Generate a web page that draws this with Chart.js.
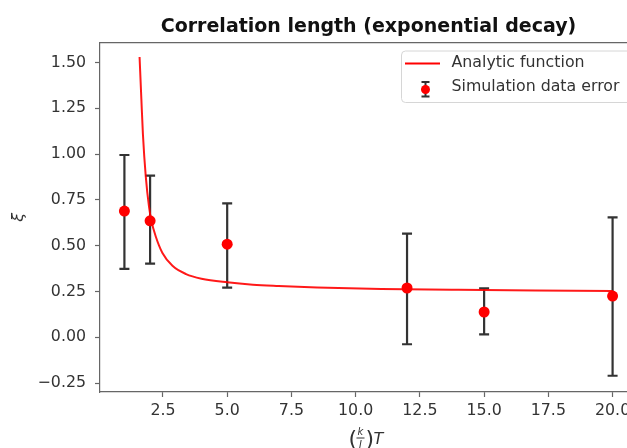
<!DOCTYPE html>
<html>
<head>
<meta charset="utf-8">
<script src="https://cdn.jsdelivr.net/npm/chart.js@4/dist/chart.umd.min.js"></script>
<style>
    html, body { margin: 0; padding: 0; background: #fff; overflow: hidden; }
    #wrap { width: 627px; height: 448px; overflow: hidden; }
</style>
</head>
<body>
<div id="wrap"><canvas id="chart" width="660" height="448"></canvas></div>
<script>
/**
 * Simulation points with their error bars.
 */
const SIM_T = [1, 2, 5, 12, 15, 20];
const SIM_XI = [0.689, 0.636, 0.508, 0.269, 0.138, 0.225];
const SIM_ERR_LOW = [0.374, 0.402, 0.271, -0.038, 0.016, -0.21];
const SIM_ERR_HIGH = [0.995, 0.882, 0.731, 0.566, 0.267, 0.655];

/**
 * Analytic curve.
 */
const CURVE_T = [1.59, 1.66, 1.72, 1.83, 1.96, 2.05, 2.22, 2.48, 2.87, 3.4, 4.0, 5.0, 6.0, 7.0, 8.5, 11, 14, 17, 20];
const CURVE_XI = [1.53, 1.30, 1.11, 0.88, 0.71, 0.636, 0.55, 0.46, 0.39, 0.345, 0.32, 0.30, 0.287, 0.28, 0.272, 0.264, 0.259, 0.256, 0.253];

const X_TICKS = [2.5, 5.0, 7.5, 10.0, 12.5, 15.0, 17.5, 20.0];
const Y_TICKS = [-0.25, 0, 0.25, 0.5, 0.75, 1.0, 1.25, 1.5];

const FONT = '"DejaVu Sans", sans-serif';
const TEXT_COLOR = '#333';
const SPINE_COLOR = '#666';
const BAR_COLOR = '#333';

const onDOMLoaded = () => {
    const CHART = document.getElementById('chart').getContext('2d');

    /**
     * Error bars go under the points and the curve.
     */
    const errorBars = {
        id: 'errorBars',
        beforeDatasetsDraw(chart) {
            const { ctx, scales: { x, y } } = chart;
            ctx.save();
            ctx.strokeStyle = BAR_COLOR;
            ctx.lineWidth = 2.2;
            SIM_T.forEach((t, i) => {
                const px = x.getPixelForValue(t);
                const top = y.getPixelForValue(SIM_ERR_HIGH[i]);
                const bottom = y.getPixelForValue(SIM_ERR_LOW[i]);
                ctx.beginPath();
                ctx.moveTo(px, top);
                ctx.lineTo(px, bottom);
                ctx.moveTo(px - 5, top);
                ctx.lineTo(px + 5, top);
                ctx.moveTo(px - 5, bottom);
                ctx.lineTo(px + 5, bottom);
                ctx.stroke();
            });
            ctx.restore();
        }
    };

    /**
     * Title, axis labels, top spine and the legend box, matplotlib style.
     */
    const decorations = {
        id: 'decorations',
        afterDraw(chart) {
            const { ctx, chartArea: area } = chart;
            ctx.save();

            ctx.strokeStyle = SPINE_COLOR;
            ctx.lineWidth = 1.2;
            ctx.beginPath();
            ctx.moveTo(area.left, area.top);
            ctx.lineTo(area.right, area.top);
            ctx.lineTo(area.right, area.bottom);
            ctx.stroke();

            const midX = (area.left + area.right) / 2;
            ctx.fillStyle = '#111';
            ctx.font = 'bold 19px ' + FONT;
            ctx.textAlign = 'center';
            ctx.textBaseline = 'alphabetic';
            ctx.fillText('Correlation length (exponential decay)', midX, 32);

            // y label
            ctx.fillStyle = TEXT_COLOR;
            ctx.save();
            ctx.translate(19, (area.top + area.bottom) / 2);
            ctx.rotate(-Math.PI / 2);
            ctx.font = 'italic 16px ' + FONT;
            ctx.textBaseline = 'middle';
            ctx.fillText('ξ', 0, 0);
            ctx.restore();

            // x label: (k/J) T
            const lx = midX - 20;
            ctx.textAlign = 'left';
            ctx.font = '22px ' + FONT;
            ctx.fillText('(', lx, 446);
            ctx.font = 'italic 10px ' + FONT;
            ctx.textAlign = 'center';
            ctx.fillText('k', lx + 12, 435);
            ctx.fillText('J', lx + 12, 448);
            ctx.fillRect(lx + 8, 437.5, 8, 1);
            ctx.textAlign = 'left';
            ctx.font = '22px ' + FONT;
            ctx.fillText(')', lx + 17, 446);
            ctx.font = 'italic 16px ' + FONT;
            ctx.fillText('T', lx + 25, 443.5);

            // legend
            const box = { left: 401.5, top: 51, right: 700, bottom: 102.5 };
            ctx.fillStyle = 'rgba(255,255,255,0.8)';
            ctx.strokeStyle = '#d6d6d6';
            ctx.lineWidth = 1;
            ctx.beginPath();
            ctx.roundRect(box.left, box.top, box.right - box.left, box.bottom - box.top, 4);
            ctx.fill();
            ctx.stroke();

            ctx.strokeStyle = 'red';
            ctx.lineWidth = 2;
            ctx.beginPath();
            ctx.moveTo(405, 63.5);
            ctx.lineTo(440, 63.5);
            ctx.stroke();

            ctx.strokeStyle = BAR_COLOR;
            ctx.lineWidth = 2;
            ctx.beginPath();
            ctx.moveTo(425.5, 82);
            ctx.lineTo(425.5, 96.5);
            ctx.moveTo(421.5, 82);
            ctx.lineTo(429.5, 82);
            ctx.moveTo(421.5, 96.5);
            ctx.lineTo(429.5, 96.5);
            ctx.stroke();
            ctx.fillStyle = 'red';
            ctx.beginPath();
            ctx.arc(425.5, 89.5, 4.5, 0, Math.PI * 2);
            ctx.fill();

            ctx.fillStyle = TEXT_COLOR;
            ctx.font = '15.8px ' + FONT;
            ctx.textBaseline = 'middle';
            ctx.fillText('Analytic function', 451.5, 63);
            ctx.fillText('Simulation data error', 451.5, 87);

            ctx.restore();
        }
    };

    const tickFont = { family: FONT, size: 15.8 };
    const fmt = (v, d) => v.toFixed(d).replace('-', '\u2212');

    new Chart(CHART, {
        type: 'scatter',
        data: {
            datasets: [
                {
                    type: 'line',
                    label: 'Analytic function',
                    data: CURVE_T.map((t, i) => ({ x: t, y: CURVE_XI[i] })),
                    borderColor: 'rgba(255,0,0,0.9)',
                    borderWidth: 2,
                    pointRadius: 0,
                    fill: false,
                    cubicInterpolationMode: 'monotone',
                    order: 2
                },
                {
                    label: 'Simulation data error',
                    data: SIM_T.map((t, i) => ({ x: t, y: SIM_XI[i] })),
                    backgroundColor: 'red',
                    borderColor: 'red',
                    pointRadius: 5.5,
                    borderWidth: 0,
                    order: 1
                }
            ]
        },
        options: {
            responsive: false,
            animation: false,
            layout: { padding: { left: 0, top: 42.7, right: 23, bottom: 0 } },
            plugins: {
                legend: { display: false },
                title: { display: false },
                tooltip: { enabled: false }
            },
            scales: {
                x: {
                    type: 'linear',
                    min: 0.05,
                    max: 20.95,
                    afterFit: (s) => { s.height = 56; },
                    afterBuildTicks: (s) => { s.ticks = X_TICKS.map((v) => ({ value: v })); },
                    grid: { drawOnChartArea: false, drawTicks: true, tickLength: 5, tickColor: SPINE_COLOR, tickWidth: 1.2 },
                    border: { display: true, color: SPINE_COLOR, width: 1.2 },
                    ticks: { font: tickFont, color: TEXT_COLOR, padding: 4, maxRotation: 0, callback: (v) => fmt(v, 1) }
                },
                y: {
                    type: 'linear',
                    min: -0.2986,
                    max: 1.608,
                    afterFit: (s) => { s.width = 100; },
                    afterBuildTicks: (s) => { s.ticks = Y_TICKS.map((v) => ({ value: v })); },
                    grid: { drawOnChartArea: false, drawTicks: true, tickLength: 5, tickColor: SPINE_COLOR, tickWidth: 1.2 },
                    border: { display: true, color: SPINE_COLOR, width: 1.2 },
                    ticks: { font: tickFont, color: TEXT_COLOR, padding: 9, callback: (v) => fmt(v, 2) }
                }
            }
        },
        plugins: [errorBars, decorations]
    });
};

document.addEventListener('DOMContentLoaded', onDOMLoaded);
</script>
</body>
</html>
